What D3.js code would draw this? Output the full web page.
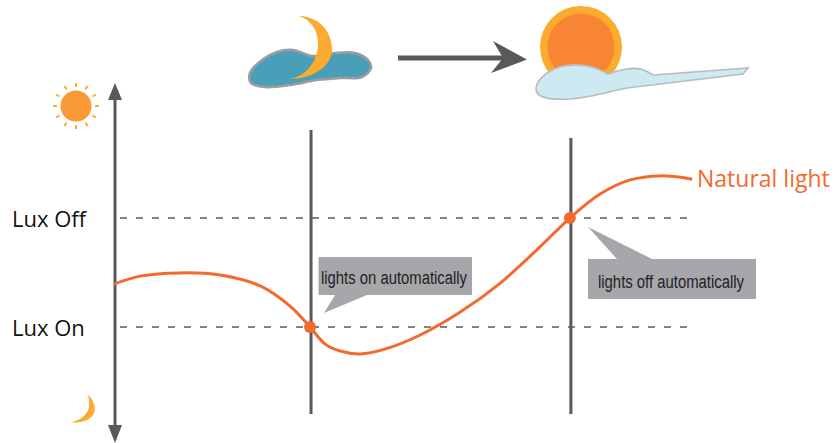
<!DOCTYPE html>
<html><head><meta charset="utf-8">
<script src="https://cdn.jsdelivr.net/npm/d3@7/dist/d3.min.js"></script>
<style>html,body{margin:0;padding:0;background:#fff;overflow:hidden}svg{display:block}</style>
</head><body><svg id="c" width="839" height="443"></svg>
<script>
const curveTime=[0,4.5,11.4,18.3,25.2,30.3,33.8,36.4,39,42.4,46.7,52.8,59.7,66.6,73.4,78.6,83.8,89,94.1,99.7];
const curveLux=[41.8,44,44.9,44.3,41.3,35.8,30,25.3,23.4,22.6,23.9,27.8,34.1,42.1,52,60,66.6,70.5,71.6,70.7];
const thresholdNames=["Lux Off","Lux On"];
const thresholdLux=[60,30];
const thresholdEnd=[100,99.3];
const crossTime=[33.8,78.6];
const crossLux=[30,60];
const crossTop=[130,138];
const seriesName="Natural light";
const notes=["lights on automatically","lights off automatically"];

const svg=d3.select("#c");
const x=d3.scaleLinear().domain([0,100]).range([114,694]);
const y=d3.scaleLinear().domain([0,100]).range([436,72.7]);
const GREY="#58595b",ORANGE="#f26a2e",AMBER="#fbab2d";
const smooth=d3.line().curve(d3.curveCatmullRomClosed.alpha(0.5));
const open=d3.line().x(d=>x(d[0])).y(d=>y(d[1])).curve(d3.curveCatmullRom.alpha(0.5));

// top icons
function moon(p,tip1,outer,tip2,inner){return `M${tip1}Q${outer[0]} ${outer[1]} ${tip2}Q${inner[0]} ${inner[1]} ${tip1}Z`;}
svg.append("path").attr("d",smooth([[250,73],[262,60],[277,52],[293,50],[313,56],[335,53],[355,53],[368,60],[371,68],[362,77],[340,78],[317,80],[290,85],[265,87],[251,83]]))
 .attr("fill","#4a9fb8").attr("stroke","#9c9c9c").attr("stroke-width",2.5);
svg.append("path").attr("d","M299,16C322,17 332,34 332,50C332,66 313,79 289,79C305,77 318,62 318,44C318,30 311,20 299,16Z").attr("fill",AMBER);
svg.append("rect").attr("x",398).attr("y",55.5).attr("width",108).attr("height",5).attr("fill","#58595b");
svg.append("path").attr("d","M527,59.5L493,41L503,58L491,73Z").attr("fill","#58595b");
svg.append("circle").attr("cx",581).attr("cy",47).attr("r",41).attr("fill",AMBER);
svg.append("circle").attr("cx",581).attr("cy",47).attr("r",33.5).attr("fill","#f78534");
svg.append("path").attr("d","M536,88C537,78 552,68 564,66C578,63 595,66 608,74C618,70 632,67 641,69C647,71 650,73 653,75L748,68L743,74L627,88C610,91 595,97 570,99C550,100 535,98 536,88Z")
 .attr("fill","#cde9f2").attr("stroke","#b9bcbe").attr("stroke-width",1.6);

// left icons
const sun=svg.append("g").attr("transform","translate(76,106)");
sun.append("circle").attr("r",15.5).attr("fill","#f99a36");
d3.range(12).forEach(i=>{const a=i*Math.PI/6+Math.PI/2;
 sun.append("line").attr("x1",19*Math.cos(a)).attr("y1",19*Math.sin(a)).attr("x2",23*Math.cos(a)*(i%3==0?1:1)).attr("y2",23*Math.sin(a)).attr("stroke",AMBER).attr("stroke-width",2);});
svg.append("path").attr("d","M88,395C94,400 96,408 94,413C91,420 81,424 71,422C80,421 88,414 89,407C89,402 89,398 88,395Z").attr("fill",AMBER);

// thresholds
thresholdLux.forEach((v,i)=>{
 svg.append("line").attr("x1",120).attr("x2",x(thresholdEnd[i])).attr("y1",y(v)).attr("y2",y(v))
  .attr("stroke","#808285").attr("stroke-width",2).attr("stroke-dasharray","7 9");
 svg.append("text").attr("x",12).attr("y",y(v)+9).attr("font-family","Open Sans").attr("font-size",22).attr("fill","#111").text(thresholdNames[i]);
});

// y axis with arrows
svg.append("line").attr("x1",115).attr("x2",115).attr("y1",95).attr("y2",430).attr("stroke",GREY).attr("stroke-width",3);
svg.append("path").attr("d","M115,83L122,100L108,100Z").attr("fill",GREY);
svg.append("path").attr("d","M115,443L122,425L108,425Z").attr("fill",GREY);

// vertical lines
crossTime.forEach((t,i)=>svg.append("line").attr("x1",x(t)+1).attr("x2",x(t)+1).attr("y1",crossTop[i]).attr("y2",414).attr("stroke",GREY).attr("stroke-width",3));

// callouts
const callouts=[
 {box:[318.5,257,153.5,38],tail:"M324,313L335,295L367,295Z",tx:321,ty:284,tw:146},
 {box:[588,259,168,40],tail:"M588,227L617,259L652,259Z",tx:598,ty:288,tw:146}];
callouts.forEach((c,i)=>{
 svg.append("rect").attr("x",c.box[0]).attr("y",c.box[1]).attr("width",c.box[2]).attr("height",c.box[3]).attr("fill","#a7a6ab");
 svg.append("path").attr("d",c.tail).attr("fill","#a7a6ab");
 svg.append("text").attr("x",c.tx).attr("y",c.ty).attr("font-family","Liberation Sans").attr("font-size",18)
  .attr("textLength",c.tw).attr("lengthAdjust","spacingAndGlyphs").attr("fill","#231f20").text(notes[i]);
});

// curve
svg.append("path").attr("d",open(curveTime.map((t,i)=>[t,curveLux[i]]))).attr("fill","none").attr("stroke",ORANGE).attr("stroke-width",3);
crossTime.forEach((t,i)=>svg.append("circle").attr("cx",x(t)).attr("cy",y(crossLux[i])).attr("r",6).attr("fill",ORANGE));
svg.append("text").attr("x",697).attr("y",187).attr("font-family","Open Sans").attr("font-size",23).attr("fill",ORANGE).text(seriesName);
</script></body></html>
